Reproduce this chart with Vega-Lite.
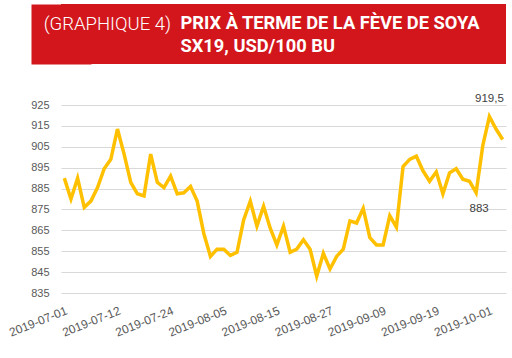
{
  "$schema": "https://vega.github.io/schema/vega-lite/v6.json",
  "padding": {"left": 7, "top": 4, "right": 5, "bottom": 5},
  "spacing": 29,
  "background": "white",
  "config": {
    "view": {"stroke": null},
    "font": "Liberation Sans",
    "locale": {"number": {"decimal": ",", "thousands": " ", "grouping": [3], "currency": ["", " $"]}}
  },
  "vconcat": [
    {
      "width": 445,
      "height": 60,
      "view": {"fill": "#d2161c", "stroke": null},
      "encoding": {
        "y": {
          "field": "line", "type": "ordinal",
          "scale": {"type": "point", "padding": 0.8},
          "axis": {"labels": false, "ticks": false, "title": null, "grid": false, "domain": true, "domainColor": "#d2161c", "domainWidth": 60}
        }
      },
      "layer": [
        {
          "data": {"values": [{"line": 1, "t": "(GRAPHIQUE 4)"}]},
          "mark": {"type": "text", "align": "right", "baseline": "middle", "dx": -112.5, "dy": 1.5, "font": "Roboto", "fontSize": 18.5, "fontWeight": 300, "color": "white"},
          "encoding": {"text": {"field": "t"}}
        },
        {
          "data": {"values": [{"line": 1, "t": "PRIX À TERME DE LA FÈVE DE SOYA"}, {"line": 2, "t": "SX19, USD/100 BU"}]},
          "mark": {"type": "text", "align": "left", "baseline": "middle", "dx": -103, "dy": 1.5, "font": "Roboto", "fontSize": 18.3, "fontWeight": "bold", "color": "white"},
          "encoding": {"text": {"field": "t"}}
        }
      ]
    },
    {
      "width": 445,
      "height": 188,
      "data": {"values": [
        {"date": "2019-07-01", "price": 890},
        {"date": "2019-07-02", "price": 880},
        {"date": "2019-07-03", "price": 890},
        {"date": "2019-07-05", "price": 876},
        {"date": "2019-07-08", "price": 879},
        {"date": "2019-07-09", "price": 885.5},
        {"date": "2019-07-10", "price": 894.5},
        {"date": "2019-07-11", "price": 899},
        {"date": "2019-07-12", "price": 913.5},
        {"date": "2019-07-15", "price": 901.5},
        {"date": "2019-07-16", "price": 888},
        {"date": "2019-07-17", "price": 882.5},
        {"date": "2019-07-18", "price": 881.5},
        {"date": "2019-07-19", "price": 901.5},
        {"date": "2019-07-22", "price": 888},
        {"date": "2019-07-23", "price": 885.5},
        {"date": "2019-07-24", "price": 891},
        {"date": "2019-07-25", "price": 882.5},
        {"date": "2019-07-26", "price": 883},
        {"date": "2019-07-29", "price": 886},
        {"date": "2019-07-30", "price": 879},
        {"date": "2019-07-31", "price": 863.5},
        {"date": "2019-08-01", "price": 852.5},
        {"date": "2019-08-02", "price": 856},
        {"date": "2019-08-05", "price": 856},
        {"date": "2019-08-06", "price": 853},
        {"date": "2019-08-07", "price": 854.5},
        {"date": "2019-08-08", "price": 870},
        {"date": "2019-08-09", "price": 879},
        {"date": "2019-08-12", "price": 867},
        {"date": "2019-08-13", "price": 876.5},
        {"date": "2019-08-14", "price": 866},
        {"date": "2019-08-15", "price": 858},
        {"date": "2019-08-16", "price": 867},
        {"date": "2019-08-19", "price": 854.5},
        {"date": "2019-08-20", "price": 856},
        {"date": "2019-08-21", "price": 860.5},
        {"date": "2019-08-22", "price": 856},
        {"date": "2019-08-23", "price": 843},
        {"date": "2019-08-26", "price": 854},
        {"date": "2019-08-27", "price": 846.5},
        {"date": "2019-08-28", "price": 852.5},
        {"date": "2019-08-29", "price": 856},
        {"date": "2019-08-30", "price": 869.5},
        {"date": "2019-09-03", "price": 868.5},
        {"date": "2019-09-04", "price": 875.5},
        {"date": "2019-09-05", "price": 861.5},
        {"date": "2019-09-06", "price": 858},
        {"date": "2019-09-09", "price": 858},
        {"date": "2019-09-10", "price": 872},
        {"date": "2019-09-11", "price": 866.5},
        {"date": "2019-09-12", "price": 895.5},
        {"date": "2019-09-13", "price": 899},
        {"date": "2019-09-16", "price": 900.5},
        {"date": "2019-09-17", "price": 893.5},
        {"date": "2019-09-18", "price": 888.5},
        {"date": "2019-09-19", "price": 893},
        {"date": "2019-09-20", "price": 882.5},
        {"date": "2019-09-23", "price": 892.5},
        {"date": "2019-09-24", "price": 894.5},
        {"date": "2019-09-25", "price": 889.5},
        {"date": "2019-09-26", "price": 888.5},
        {"date": "2019-09-27", "price": 883},
        {"date": "2019-09-30", "price": 905.5},
        {"date": "2019-10-01", "price": 919.5},
        {"date": "2019-10-02", "price": 913.5},
        {"date": "2019-10-03", "price": 908.5}
      ]},
      "encoding": {
        "x": {
          "field": "date", "type": "ordinal",
          "scale": {"type": "point", "padding": 0.5},
          "axis": {
            "values": ["2019-07-01", "2019-07-12", "2019-07-24", "2019-08-05", "2019-08-15", "2019-08-27", "2019-09-09", "2019-09-19", "2019-10-01"],
            "labelAngle": -22, "labelAlign": "right", "labelBaseline": "top", "labelPadding": 12,
            "domain": false, "ticks": false, "grid": false, "title": null,
            "labelColor": "#595959", "labelFontSize": 12
          }
        },
        "y": {
          "field": "price", "type": "quantitative",
          "scale": {"domain": [835, 925], "nice": false, "zero": false},
          "axis": {
            "values": [835, 845, 855, 865, 875, 885, 895, 905, 915, 925],
            "domain": false, "ticks": false, "title": null, "labelPadding": 12,
            "gridColor": "#d9d9d9", "gridWidth": 1,
            "labelColor": "#595959", "labelFontSize": 11
          }
        }
      },
      "layer": [
        {"mark": {"type": "line", "color": "#ffc000", "strokeWidth": 3.5}},
        {
          "transform": [{"filter": "datum.date == '2019-10-01'"}],
          "mark": {"type": "text", "baseline": "alphabetic", "dy": -14, "fontSize": 11.5, "color": "#404040"},
          "encoding": {"text": {"field": "price", "type": "quantitative", "format": "~f"}}
        },
        {
          "transform": [{"filter": "datum.date == '2019-09-27'"}],
          "mark": {"type": "text", "baseline": "alphabetic", "dx": 3, "dy": 19, "fontSize": 11.5, "color": "#404040"},
          "encoding": {"text": {"field": "price", "type": "quantitative", "format": "~f"}}
        }
      ]
    }
  ]
}
